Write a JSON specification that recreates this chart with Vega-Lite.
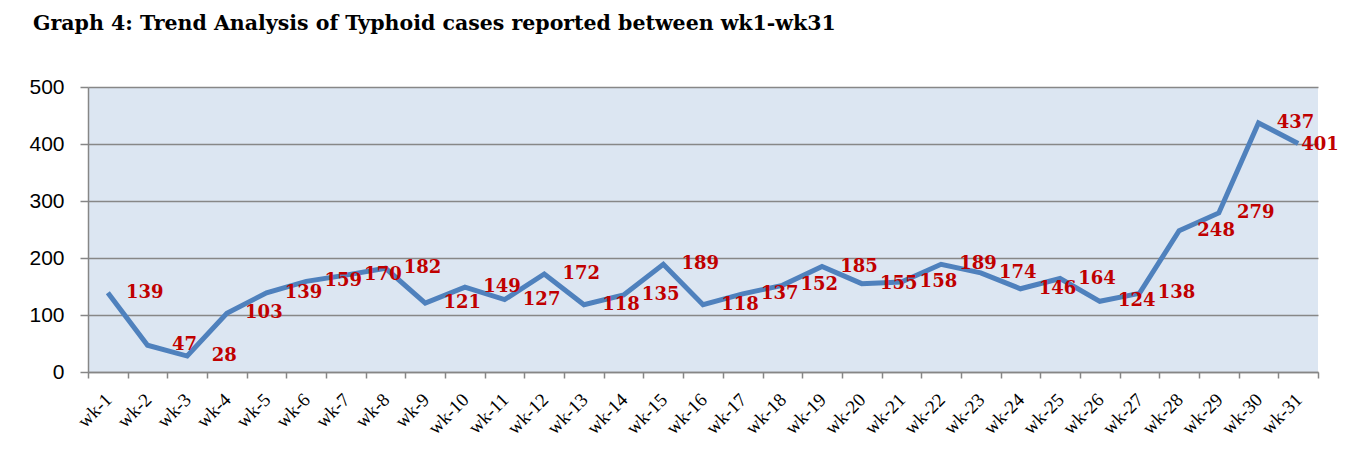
{
  "$schema": "https://vega.github.io/schema/vega-lite/v6.json",
  "width": 1230,
  "height": 285,
  "autosize": {"type": "none"},
  "padding": {"left": 88, "top": 87, "right": 28, "bottom": 85},
  "background": "white",
  "title": {
    "text": "Graph 4: Trend Analysis of Typhoid cases reported between wk1-wk31",
    "anchor": "start",
    "frame": "group",
    "dx": -55,
    "offset": 42,
    "font": "DejaVu Serif",
    "fontSize": 20.5,
    "fontWeight": "bold",
    "color": "black"
  },
  "data": {
    "values": [
      {"week": "wk-1", "cases": 139},
      {"week": "wk-2", "cases": 47},
      {"week": "wk-3", "cases": 28},
      {"week": "wk-4", "cases": 103},
      {"week": "wk-5", "cases": 139},
      {"week": "wk-6", "cases": 159},
      {"week": "wk-7", "cases": 170},
      {"week": "wk-8", "cases": 182},
      {"week": "wk-9", "cases": 121},
      {"week": "wk-10", "cases": 149},
      {"week": "wk-11", "cases": 127},
      {"week": "wk-12", "cases": 172},
      {"week": "wk-13", "cases": 118},
      {"week": "wk-14", "cases": 135},
      {"week": "wk-15", "cases": 189},
      {"week": "wk-16", "cases": 118},
      {"week": "wk-17", "cases": 137},
      {"week": "wk-18", "cases": 152},
      {"week": "wk-19", "cases": 185},
      {"week": "wk-20", "cases": 155},
      {"week": "wk-21", "cases": 158},
      {"week": "wk-22", "cases": 189},
      {"week": "wk-23", "cases": 174},
      {"week": "wk-24", "cases": 146},
      {"week": "wk-25", "cases": 164},
      {"week": "wk-26", "cases": 124},
      {"week": "wk-27", "cases": 138},
      {"week": "wk-28", "cases": 248},
      {"week": "wk-29", "cases": 279},
      {"week": "wk-30", "cases": 437},
      {"week": "wk-31", "cases": 401}
    ]
  },
  "encoding": {
    "x": {
      "field": "week",
      "type": "nominal",
      "sort": null,
      "scale": {"type": "band", "paddingInner": 0, "paddingOuter": 0},
      "axis": {
        "title": null,
        "grid": false,
        "tickBand": "extent",
        "domainColor": "#868686",
        "domainWidth": 1.5,
        "tickColor": "#868686",
        "tickWidth": 1.5,
        "tickSize": 6,
        "labelAngle": -45,
        "labelAlign": "right",
        "labelBaseline": "top",
        "labelPadding": 12,
        "labelOffset": -6,
        "labelFont": "Liberation Serif",
        "labelFontSize": 19,
        "labelColor": "black"
      }
    },
    "y": {
      "field": "cases",
      "type": "quantitative",
      "scale": {"domain": [0, 500], "nice": false},
      "axis": {
        "title": null,
        "values": [0, 100, 200, 300, 400, 500],
        "grid": true,
        "gridColor": "#878787",
        "gridWidth": 1.5,
        "domainColor": "#868686",
        "domainWidth": 1.5,
        "tickColor": "#868686",
        "tickWidth": 1.5,
        "tickSize": 8,
        "labelFont": "Liberation Sans",
        "labelFontSize": 21,
        "labelColor": "black",
        "labelPadding": 16
      }
    }
  },
  "layer": [
    {
      "mark": {"type": "line", "color": "#4F81BD", "strokeWidth": 5}
    },
    {
      "transform": [{"filter": "datum.week !== 'wk-31'"}],
      "mark": {
        "type": "text",
        "dx": 37,
        "align": "center",
        "baseline": "middle",
        "font": "DejaVu Serif",
        "fontSize": 18,
        "fontWeight": "bold",
        "color": "#C00000"
      },
      "encoding": {"text": {"field": "cases", "type": "quantitative"}}
    },
    {
      "transform": [{"filter": "datum.week === 'wk-31'"}],
      "mark": {
        "type": "text",
        "dx": 3,
        "dy": 2,
        "align": "left",
        "baseline": "middle",
        "font": "DejaVu Serif",
        "fontSize": 18,
        "fontWeight": "bold",
        "color": "#C00000"
      },
      "encoding": {"text": {"field": "cases", "type": "quantitative"}}
    }
  ],
  "config": {
    "view": {"fill": "#DCE6F2", "stroke": null}
  }
}
